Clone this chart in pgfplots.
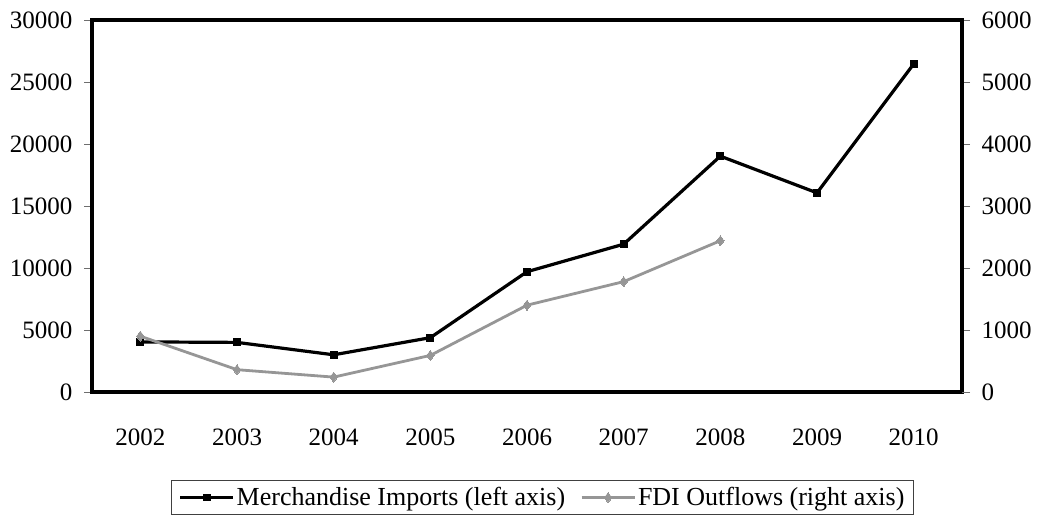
\documentclass[border=0pt]{standalone}
\usepackage{pgfplots}
\pgfplotsset{compat=1.18}
\usepackage{fontspec}
\setmainfont{Liberation Serif}
\definecolor{fdigray}{RGB}{150,150,150}
\definecolor{tickgray}{RGB}{110,110,110}
\begin{document}
\begin{tikzpicture}[x=1pt,y=1pt]
\useasboundingbox (0,0) rectangle (1064,529);
\pgfplotsset{
  common/.style={
    at={(92pt,137pt)}, anchor=south west,
    scale only axis, width=870pt, height=372pt,
    xmin=-0.5, xmax=8.5,
    ymin=0,
    tick label style={font=\fontsize{25}{29}\selectfont},
    /pgf/number format/assume math mode=true,
    /pgf/number format/1000 sep={},
    tick style={tickgray, line width=0.8pt},
    clip=false,
  }
}
\begin{axis}[common,
  ymax=30000, ytick={0,5000,...,30000},
  ytick pos=left, ytick align=outside, major tick length=8pt,
  scaled y ticks=false,
  y tick label style={xshift=-8pt},
  xtick={0,...,8},
  xticklabels={2002,2003,2004,2005,2006,2007,2008,2009,2010},
  x tick label style={yshift=-29pt},
  minor xtick={-0.5,0.5,...,8.5},
  xtick pos=bottom,
  x tick style={draw=none},
  minor x tick style={tickgray, line width=0.8pt},
  minor tick length=18pt,
  xtick align=center,
  axis line style={black, line width=3.2pt},
  legend columns=2,
  legend style={at={(0.5178,-0.2837)}, anchor=center,
    draw=black!75, line width=1pt,
    font=\fontsize{26}{30}\selectfont,
    inner xsep=7pt, inner ysep=5pt,
    /tikz/every even column/.append style={column sep=13pt}},
  legend image code/.code={
    \draw[#1] (0pt,0pt) -- (53pt,0pt);
    \draw[#1, only marks] plot coordinates {(26.5pt,0pt)};
  },
]
\addplot[black, line width=3.2pt, mark=square*, mark size=3.4pt,
  mark options={line width=0pt, fill=black}]
  coordinates {(0,4040) (1,4000) (2,3000) (3,4380) (4,9700) (5,11920) (6,19020) (7,16060) (8,26450)};
\addlegendentry{Merchandise Imports (left axis)}
\addlegendimage{fdigray, line width=2.8pt, mark=diamond*, mark size=5pt,
  mark options={line width=0pt, fill=fdigray}}
\addlegendentry{FDI Outflows (right axis)}
\end{axis}
\begin{axis}[common,
  ymax=6000, ytick={0,1000,...,6000},
  axis y line*=right, axis x line=none,
  ytick align=outside, major tick length=8pt,
  scaled y ticks=false,
  y tick label style={xshift=8pt},
  axis line style={black, line width=3.2pt},
]
\addplot[fdigray, line width=2.8pt, mark=diamond*, mark size=5pt,
  mark options={line width=0pt, fill=fdigray}]
  coordinates {(0,900) (1,360) (2,240) (3,590) (4,1400) (5,1780) (6,2440)};
\end{axis}
\end{tikzpicture}
\end{document}
